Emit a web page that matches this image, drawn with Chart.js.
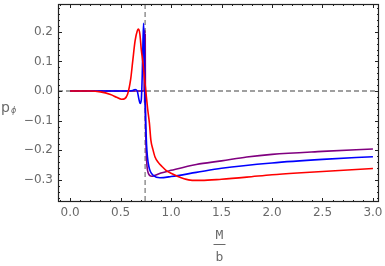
<!DOCTYPE html>
<html>
<head>
<meta charset="utf-8">
<script src="https://cdn.jsdelivr.net/npm/chart.js@4.4.1/dist/chart.umd.min.js"></script>
<style>
  html, body { margin: 0; padding: 0; background: #fff; }
  #wrap { width: 385px; height: 266px; }
</style>
</head>
<body>
<div id="wrap"><canvas id="c"></canvas></div>
<script>
// values
const redX = [0.0, 0.2, 0.3, 0.4, 0.46, 0.51, 0.54, 0.57, 0.6, 0.62, 0.644, 0.665, 0.678, 0.692, 0.705, 0.72, 0.735, 0.75, 0.768, 0.786, 0.8, 0.82, 0.84, 0.875, 0.91, 0.95, 1.0, 1.1, 1.19, 1.3, 1.5, 1.75, 2.0, 2.25, 2.5, 2.75, 3.0];
const redY = [0, 0, -0.003, -0.012, -0.021, -0.028, -0.026, -0.01, 0.04, 0.1, 0.17, 0.203, 0.209, 0.19, 0.14, 0.1, 0.05, 0.0, -0.06, -0.11, -0.166, -0.197, -0.222, -0.242, -0.255, -0.268, -0.278, -0.293, -0.301, -0.302, -0.298, -0.291, -0.283, -0.277, -0.272, -0.267, -0.262];

const blueX = [0.0, 0.55, 0.62, 0.644, 0.665, 0.68, 0.694, 0.705, 0.715, 0.722, 0.728, 0.733, 0.737, 0.741, 0.745, 0.75, 0.757, 0.766, 0.78, 0.795, 0.826, 0.89, 1.0, 1.25, 1.5, 2.0, 2.5, 3.0];
const blueY = [0, 0, 0.002, 0.005, 0.0, -0.025, -0.042, -0.03, 0.06, 0.17, 0.229, 0.17, 0.08, -0.01, -0.06, -0.12, -0.18, -0.222, -0.255, -0.272, -0.286, -0.293, -0.289, -0.275, -0.261, -0.243, -0.231, -0.222];

const purpleX = [0.0, 0.72, 0.733, 0.736, 0.738, 0.74, 0.742, 0.744, 0.746, 0.75, 0.755, 0.762, 0.775, 0.79, 0.81, 0.84, 0.9, 1.0, 1.25, 1.5, 1.75, 2.0, 2.5, 3.0];
const purpleY = [0, 0, 0, 0.2, -0.04, 0.206, -0.04, 0.19, -0.05, -0.15, -0.21, -0.255, -0.278, -0.286, -0.288, -0.285, -0.277, -0.268, -0.248, -0.236, -0.223, -0.214, -0.204, -0.196];

const xTicks = [0, 0.5, 1.0, 1.5, 2.0, 2.5, 3.0];
const yTicks = [-0.3, -0.2, -0.1, 0.0, 0.1, 0.2];
const refX = 0.743;   // vertical dashed line
const refY = 0.0;     // horizontal dashed line

const toPoints = (xs, ys) => xs.map((x, i) => ({ x, y: ys[i] }));
const minus = v => v.toFixed(1).replace('-', '\u2212');

const LABEL_GRAY = '#6a6a6a';

// dashed reference lines, behind the curves
const refLinesPlugin = {
    id: 'refLines',
    beforeDatasetsDraw(chart) {
        const { ctx, chartArea: a, scales: { x, y } } = chart;
        ctx.save();
        ctx.strokeStyle = '#808080';
        ctx.lineWidth = 1.3;
        ctx.setLineDash([5, 3]);
        const px = x.getPixelForValue(refX);
        const py = y.getPixelForValue(refY);
        ctx.beginPath();
        ctx.moveTo(px, a.top); ctx.lineTo(px, a.bottom);
        ctx.moveTo(a.left, py); ctx.lineTo(a.right, py);
        ctx.stroke();
        ctx.restore();
    }
};

// frame with inward ticks on all four sides, plus axis labels
const framePlugin = {
    id: 'frame',
    afterDraw(chart) {
        const { ctx, chartArea: a, scales: { x, y } } = chart;
        ctx.save();
        ctx.strokeStyle = '#222';
        ctx.lineWidth = 1;
        ctx.beginPath();
        // x ticks: major every 0.5, minor every 0.1
        for (let i = -1; i <= 30; i++) {
            const v = i / 10;
            const px = Math.round(x.getPixelForValue(v)) + 0.5;
            if (px < a.left || px > a.right) continue;
            const len = i % 5 === 0 ? 4 : 2;
            ctx.moveTo(px, a.bottom); ctx.lineTo(px, a.bottom - len);
            ctx.moveTo(px, a.top); ctx.lineTo(px, a.top + len);
        }
        // y ticks: major every 0.1, minor every 0.02
        for (let i = -18; i <= 14; i++) {
            const v = i / 50;
            const py = Math.round(y.getPixelForValue(v)) + 0.5;
            if (py < a.top || py > a.bottom) continue;
            const len = i % 5 === 0 ? 4 : 2;
            ctx.moveTo(a.left, py); ctx.lineTo(a.left + len, py);
            ctx.moveTo(a.right, py); ctx.lineTo(a.right - len, py);
        }
        ctx.stroke();
        ctx.lineWidth = 1.2;
        ctx.strokeRect(Math.round(a.left) + 0.5, Math.round(a.top) + 0.5,
            Math.round(a.right - a.left) - 1, Math.round(a.bottom - a.top) - 1);

        // y axis label p_phi
        ctx.fillStyle = LABEL_GRAY;
        ctx.textBaseline = 'alphabetic';
        ctx.textAlign = 'left';
        ctx.font = '14px "DejaVu Sans"';
        ctx.fillText('p', 1, 112);
        ctx.font = 'italic 8px "DejaVu Sans"';
        ctx.fillText('\u03d5', 11, 113);

        // x axis label M/b as a fraction
        const cx = (a.left + a.right) / 2 + 1;
        ctx.textAlign = 'center';
        ctx.font = '13px "DejaVu Sans Mono"';
        ctx.fillText('M', cx, 239);
        ctx.fillText('b', cx, 261);
        ctx.strokeStyle = LABEL_GRAY;
        ctx.lineWidth = 1;
        ctx.beginPath();
        ctx.moveTo(cx - 6, 244.5); ctx.lineTo(cx + 6, 244.5);
        ctx.stroke();
        ctx.restore();
    }
};

const line = (label, xs, ys, color) => ({
    label,
    data: toPoints(xs, ys),
    borderColor: color,
    borderWidth: 1.6,
    pointRadius: 0,
    showLine: true,
    fill: false,
    cubicInterpolationMode: 'monotone'
});

new Chart(document.getElementById('c'), {
    type: 'scatter',
    data: {
        datasets: [
            line('red', redX, redY, '#ff0000'),
            line('blue', blueX, blueY, '#0000ff'),
            line('purple', purpleX, purpleY, '#800080')
        ]
    },
    options: {
        responsive: true,
        maintainAspectRatio: false,
        animation: false,
        layout: { padding: { top: 4, right: 6, left: 0, bottom: 0 } },
        plugins: { legend: { display: false }, tooltip: { enabled: false } },
        scales: {
            x: {
                type: 'linear',
                min: -0.12,
                max: 3.06,
                afterFit(s) { s.height = 64; s.paddingLeft = 0; s.paddingRight = 0; },
                afterBuildTicks(s) { s.ticks = xTicks.map(v => ({ value: v })); },
                grid: { display: false, drawTicks: false },
                border: { display: false },
                ticks: {
                    padding: 4,
                    color: LABEL_GRAY,
                    font: { family: 'DejaVu Sans', size: 12 },
                    maxRotation: 0,
                    autoSkip: false,
                    callback: v => minus(v)
                }
            },
            y: {
                type: 'linear',
                min: -0.375,
                max: 0.294,
                afterFit(s) { s.width = 58; s.paddingTop = 0; s.paddingBottom = 0; },
                afterBuildTicks(s) { s.ticks = yTicks.map(v => ({ value: v })); },
                grid: { display: false, drawTicks: false },
                border: { display: false },
                ticks: {
                    padding: 5,
                    color: LABEL_GRAY,
                    font: { family: 'DejaVu Sans', size: 12 },
                    autoSkip: false,
                    callback: v => minus(v)
                }
            }
        }
    },
    plugins: [refLinesPlugin, framePlugin]
});
</script>
</body>
</html>
